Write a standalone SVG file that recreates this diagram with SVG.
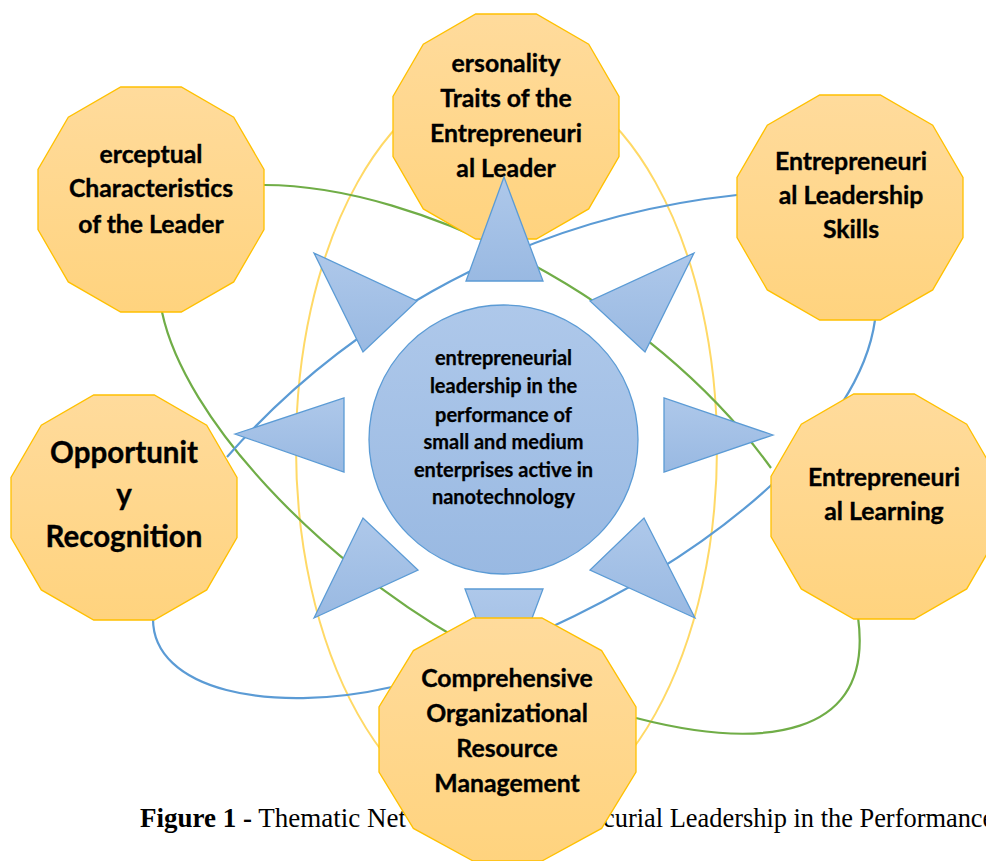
<svg xmlns="http://www.w3.org/2000/svg" xmlns:xlink="http://www.w3.org/1999/xlink" width="986" height="861" viewBox="0 0 986 861">
  <defs>
    <linearGradient id="gOrange" x1="0" y1="0" x2="0" y2="1">
      <stop offset="0" stop-color="#FFDB9C"/>
      <stop offset="1" stop-color="#FFD37E"/>
    </linearGradient>
    <linearGradient id="gBlue" x1="0" y1="0" x2="0" y2="1">
      <stop offset="0" stop-color="#AEC8EA"/>
      <stop offset="1" stop-color="#99B9E2"/>
    </linearGradient>
    <!-- twelve-sided shape, 226 x 225 -->
    <polygon id="dodec" points="82.7,0 143.3,0 195.7,30.2 226,82.4 226,142.7 195.7,194.9 143.3,225 82.7,225 30.3,194.9 0,142.7 0,82.4 30.3,30.2"/>
    <style>
      .ring { fill: none; stroke: #FFD966; stroke-width: 2; }
      .green { fill: none; stroke: #70AD47; stroke-width: 2.2; }
      .blue { fill: none; stroke: #5B9BD5; stroke-width: 2.2; }
      .node { fill: url(#gOrange); stroke: #FFC000; stroke-width: 1.3; }
      .tri { fill: url(#gBlue); stroke: #5B9BD5; stroke-width: 1.3; stroke-linejoin: miter; }
      .hub { fill: url(#gBlue); stroke: #5B9BD5; stroke-width: 1.3; }
      .lbl { font-family: Lato, "Liberation Sans", sans-serif; font-weight: bold; font-size: 24.8px; fill: #000; stroke: #000; stroke-width: 0.35; text-anchor: middle; }
      .big { font-size: 29.5px; }
      .hubtxt { font-size: 20px; stroke-width: 0.25; }
      .cap { font-family: "Liberation Serif", "Times New Roman", serif; font-size: 27px; fill: #000; }
      .cap2 { font-size: 26.4px; }
    </style>
  </defs>

  <rect width="986" height="861" fill="#FFFFFF"/>

  <!-- connectors: outer ring and linking curves -->
  <g id="connectors">
    <ellipse class="ring" cx="506.5" cy="448" rx="210.5" ry="376"/>
    <path class="green" d="M264,185 C420,185 650,300 771,468"/>
    <path class="green" d="M162,312 C185,420 320,560 460,640"/>
    <path class="green" d="M858,617 C875,740 760,750 636,718"/>
    <path class="blue" d="M227,457 C330,340 500,220 737,195"/>
    <path class="blue" d="M875,320 C860,430 720,550 545,630"/>
    <path class="blue" d="M153,618 C152,690 270,715 392,687"/>
  </g>

  <!-- caption -->
  <g id="caption">
    <text class="cap" x="140" y="827"><tspan font-weight="bold">Figure 1 -</tspan> Thematic Net</text>
    <text class="cap cap2" x="603" y="827">curial Leadership in the Performance</text>
  </g>

  <g id="node-personality">
    <use xlink:href="#dodec" href="#dodec" class="node" x="393" y="14"/>
    <text class="lbl"><tspan x="506" y="72">ersonality</tspan><tspan x="506" y="106.5">Traits of the</tspan><tspan x="506" y="141.5">Entrepreneuri</tspan><tspan x="506" y="176.5">al Leader</tspan></text>
  </g>

  <g id="node-perceptual">
    <use xlink:href="#dodec" href="#dodec" class="node" x="38" y="87"/>
    <text class="lbl"><tspan x="151" y="163">erceptual</tspan><tspan x="151" y="197">Characteristics</tspan><tspan x="151" y="232.5">of the Leader</tspan></text>
  </g>

  <g id="node-skills">
    <use xlink:href="#dodec" href="#dodec" class="node" x="737" y="95"/>
    <text class="lbl"><tspan x="851" y="170">Entrepreneuri</tspan><tspan x="851" y="203.5">al Leadership</tspan><tspan x="851" y="238">Skills</tspan></text>
  </g>

  <g id="node-opportunity">
    <use xlink:href="#dodec" href="#dodec" class="node" x="11" y="395"/>
    <text class="lbl big"><tspan x="124" y="463">Opportunit</tspan><tspan x="124" y="505">y</tspan><tspan x="124" y="547">Recognition</tspan></text>
  </g>

  <g id="node-learning">
    <use xlink:href="#dodec" href="#dodec" class="node" x="771" y="394"/>
    <text class="lbl"><tspan x="884" y="486">Entrepreneuri</tspan><tspan x="884" y="520">al Learning</tspan></text>
  </g>

  <!-- pointers radiating from the hub -->
  <g id="pointers">
    <polygon class="tri" points="504,177 466,281 543,281"/>
    <polygon class="tri" points="465,589 543,589 504,693"/>
    <polygon class="tri" points="235,434 344,398 344,472"/>
    <polygon class="tri" points="773,435 664,398 664,472"/>
    <polygon class="tri" points="314,253 417,301 363,352"/>
    <polygon class="tri" points="694,253 590,301 645,352"/>
    <polygon class="tri" points="314,618 363,518 418,570"/>
    <polygon class="tri" points="695,618 644,518 590,570"/>
  </g>

  <g id="node-hub">
    <circle class="hub" cx="503.5" cy="439.5" r="134.5"/>
    <text class="lbl hubtxt"><tspan x="503.5" y="365">entrepreneurial</tspan><tspan x="503.5" y="393">leadership in the</tspan><tspan x="503.5" y="421.5">performance of</tspan><tspan x="503.5" y="449">small and medium</tspan><tspan x="503.5" y="476.5">enterprises active in</tspan><tspan x="503.5" y="504">nanotechnology</tspan></text>
  </g>

  <g id="node-resource">
    <polygon class="node" points="473.1,618 541.9,618 601.6,650.6 636,706.9 636,772.1 601.6,828.4 541.9,861 473.1,861 413.4,828.4 379,772.1 379,706.9 413.4,650.6"/>
    <text class="lbl"><tspan x="507" y="686.5">Comprehensive</tspan><tspan x="507" y="721.5">Organizational</tspan><tspan x="507" y="756.5">Resource</tspan><tspan x="507" y="791.5">Management</tspan></text>
  </g>
</svg>
